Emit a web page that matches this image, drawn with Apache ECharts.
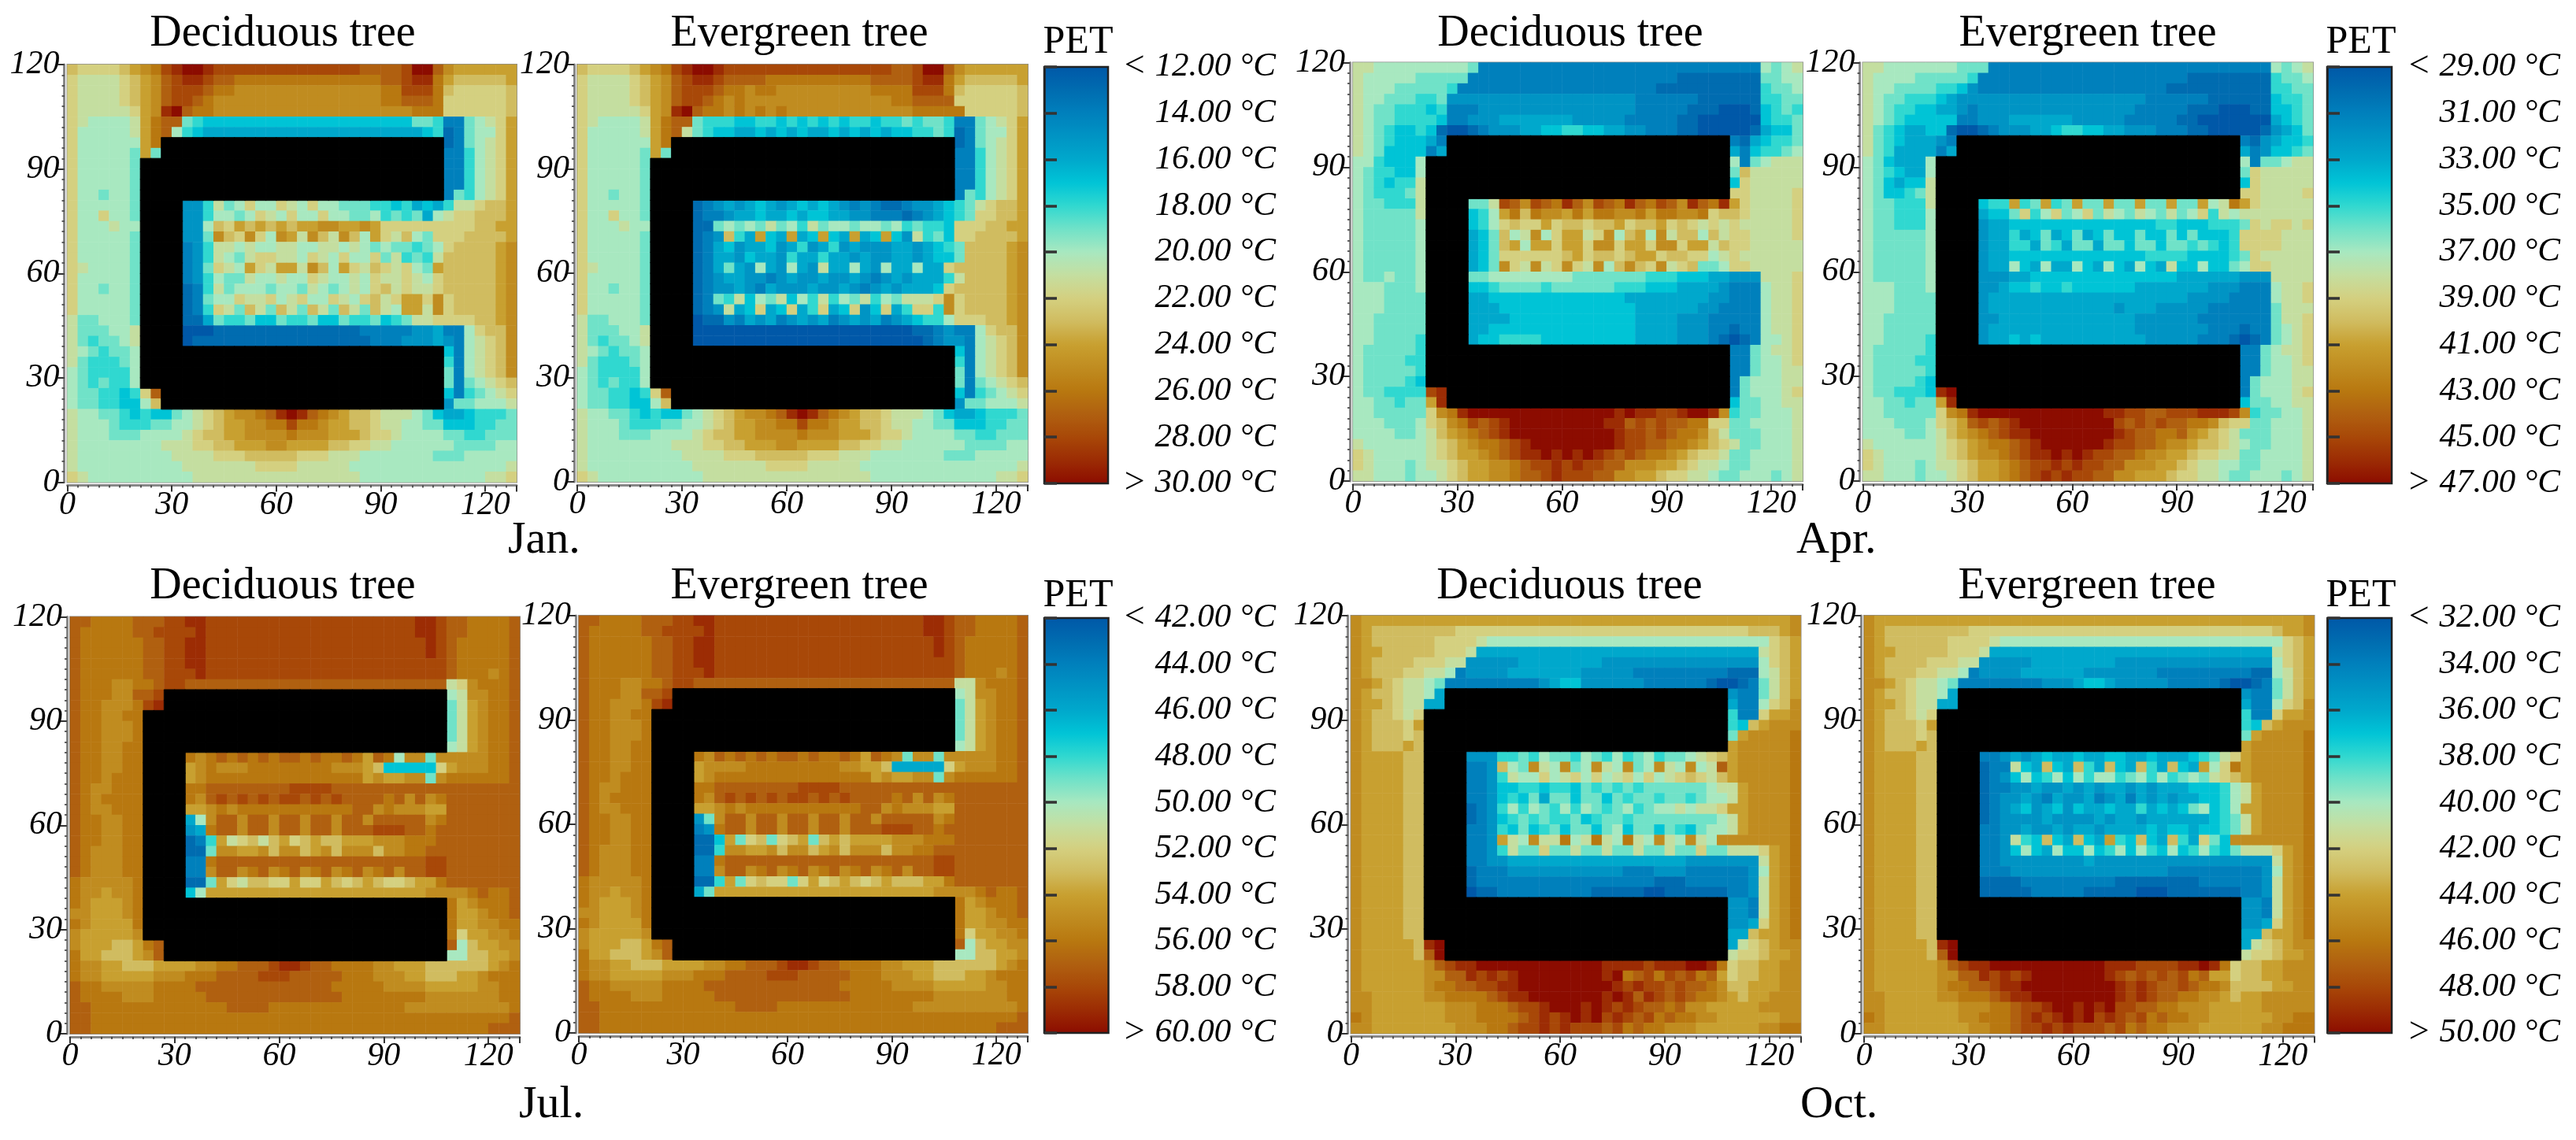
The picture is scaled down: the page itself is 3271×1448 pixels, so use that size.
<!DOCTYPE html>
<html><head><meta charset="utf-8">
<style>html,body{margin:0;padding:0;background:#fff}#c{width:3271px;height:1448px}</style>
<script src="https://cdn.jsdelivr.net/npm/echarts@6/dist/echarts.min.js"></script></head>
<body><div id="c"></div>
<script>
// Each letter is a PET level: a = lowest tick of the month's scale, each next letter = +1 °C. Building cells are left out of the strings.
// Row = "left mid right" on open rows; "left right" beside the wings; "left courtyard right" between the wings.
const janRange=[12,30], aprRange=[29,47], julRange=[42,60], octRange=[32,50];
const janTicks=["12.00","14.00","16.00","18.00","20.00","22.00","24.00","26.00","28.00","30.00"];
const aprTicks=["29.00","31.00","33.00","35.00","37.00","39.00","41.00","43.00","45.00","47.00"];
const julTicks=["42.00","44.00","46.00","48.00","50.00","52.00","54.00","56.00","58.00","60.00"];
const octTicks=["32.00","34.00","36.00","38.00","40.00","42.00","44.00","46.00","48.00","50.00"];
const buildingBlocks=[[7,8,9,35],[9,12,7,35],[13,26,7,10],[27,30,7,35],[31,32,9,35]];
const xTickValues=[0,3,6,9,12,15,18,21,24,27,30,33,36,39,42,45,48,51,54,57,60,63,66,69,72,75,78,81,84,87,90,93,96,99,102,105,108,111,114,117,120,123,126];
const yTickValues=[0,3,6,9,12,15,18,21,24,27,30,33,36,39,42,45,48,51,54,57,60,63,66,69,72,75,78,81,84,87,90,93,96,99,102,105,108,111,114,117];

const janDeciduous=[
"lkkkklmnoqrssrqqqqqqqqqqqqqqppppqsspnmmmmmm",
"kjjjjklmnpqrrqppooooooooooooooppqrromlllllm",
"kjjjjklmnpqqqpoonnnnnnnnnnnnnnooqqqolkkkkkl",
"kjjjjklmnpqqponnnnnnnnnnnnnnnnoopppokkkkkkl",
"kjjjjjkmnrspoonnnnnnnnnnnnnnnnnnnoookkkkkkl",
"kjiiiijmopphgffffffffffffffffffffhhgcchijkm",
"kiiiiijmopigfeeeeeeeeeeeeeeeeeeeeefgbchiikm",
"kiiiiiimo bchijkm",
"kiiiiihmh ccgijkm",
"kiiiiih ccgijkm",
"kiiiiih ccgijkm",
"kiiiiih ccgijkm",
"kiihiih chgijkm",
"kiiiiih ddgjhikiikjikiihhhggfgefe gjjkllm",
"kiikiih ddgiihikjikiikiihhighghei jkklllm",
"kiiijii ddilkmlmlmlmmnnmmnmkkkkkk kkkllmm",
"kiiiiih ddhnlknkinmjnljnlimkjlihk kkllllm",
"kiiiiih cdgjjijiijjiijjijihihhghi kllllmn",
"kiiiiih cdgjihjkkjjikjikiikhjghgj lllllmn",
"kjiiiih cdhkjimkjmmjnlimkjlkjkihm lllllmn",
"kiiiiih cdgihhjiijiikjiijikjjkjik lllllmn",
"kiihiih bcgjhiiihiihjihijikljkjjk lllllmn",
"kiiiiih bchiikjjkijkiikjikljkmmkn kllllmn",
"kiiiiih bcgkjhljhljhljhljhljimmjn kllllmn",
"jhhiiih bbehgghffhgghffhgghfghjjk kkkllmn",
"jhhhiij aaabbbbbbbbbbbbbbcccccdde cciklln",
"jhghhij abbbbbbbbbbbbbbbbbcccddde dcijkln",
"jihghhi fcijkln",
"jhggghi gcijkln",
"ihggggi hcijkln",
"ihghggi hchijkl",
"ihhggfgkp fcghijk",
"ihhggffil dhhiiij",
"jiihhgfgffhijklmnnoprsrponmllkjjjihfeefgggh",
"jiiihggghhiijklmmnnooqoonmmllkjjiihhfffgghh",
"jiiihhhiiiijkllmmnnnnonnnmmmlkkjiiiihhgghhh",
"jiiiiiiiijjjkkllmmmnnmmmmllkkjjiiiiiihhhhii",
"jiiiiiiiiijjjjkkklllllkkkjjjiiiiiiihhhiiiii",
"jiiiiiiiiiijjjjjjjkkkkjjjjjiiiiiiiiiiiiiiij",
"kjiiiiiiiiiijjjjjjjjjjjjjjjjiiiiiiiiiiiijjk"];

const janEvergreen=[
"lkkkklmnoqrssrqqqqqqqqqqqqqqqqppqsspnmmmmmm",
"kjjjjklmnpqrrqppppooooooooooppppqrromlllllm",
"kjjjjklmnpqqqpoonoonnnnnnnnnooooqqqolkkkkkl",
"kjjjjklmnpqqpononnnnnnnnnnnnnnooppppkkkkkkl",
"kjjjjjkmnrspoononononnnnnnnnnnnnoooookkkkkl",
"kjiiiijmopphgggffggfgfgfgfggfgghghhgcchijkm",
"kiiiiijmopjhgffeefefefeefefefeffgghgbchiikm",
"kiiiiiimo bchijkm",
"kiiiiihmh ccgijkm",
"kiiiiih ccgijkm",
"kiiiiih ccgijkm",
"kiiiiih ccgijkm",
"kiihiih chgijkm",
"kiiiiih bcdedefedefefedcdcbbcddef ghjkllm",
"kiikiih bccdeefeefeffeeddcccbcdef ghkkllm",
"kiiijii bbhihihjhigjhiihiihighggf kkkllmm",
"kiiiiih bcdlgemfemefmfemefmfdjghf kkllllm",
"kiiiiih bcefdeefdegdegdedddeedefg hllllmn",
"kiiiiih bceedfeedgeegeededdeedeff hllllmn",
"kjiiiih bcehediediedjeeiedieeieek lllllmn",
"kiiiiih bcdeeddcdeddeddedcdedeeeg jllllmn",
"kiihiih bcddedcedddeddedcdedeeefk lllllmn",
"kiiiiih bchgjfihjfigjgihjgihjjjkn kllllmn",
"kiiiiih bcdjefkefkegkefkdfkegkkgn kllllmn",
"jhhiiih abbdcedecdedecdedecdefggi kkkllmn",
"jhhhiij aaaaaaaaaaaaaaaaaaaaabbcd cciklln",
"jhghhij aaaaaaaaaaaaaaaaaaaaaabcd dcijkln",
"jihghhi fcijkln",
"jhggghi gcijkln",
"ihggggi hcijkln",
"ihghggi hchijkl",
"ihhggfgkp fcghijk",
"ihhggffil dhhiiij",
"jiihhgfgffhijklmnnoprsrponmllkjjjihfeefgggh",
"jiiihggghhiijklmmnnooqoonmmllkjjiihhfffgghh",
"jiiihhhiiiijkllmmnnnnonnnmmmlkkjiiiihhgghhh",
"jiiiiiiiijjjkkllmmmnnmmmmllkkjjiiiiiihhhhii",
"jiiiiiiiiijjjjkkklllllkkkjjjiiiiiiihhhiiiii",
"jiiiiiiiiiijjjjjjjkkkkjjjjjiiiiiiiiiiiiiiij",
"kjiiiiiiiiiijjjjjjjjjjjjjjjjiiiiiiiiiiiijjk"];

const aprDeciduous=[
"jjiiiiiiiiih c ihij",
"jiiiiihhhhh ccccccccccccccccccccbbbbbbbb hhii",
"jiiihhhhhg cccccccccccccccccccbbbbbbbbbb ghhi",
"jiihhhggh ddddddddddddddddddccccccbbbbbb gghh",
"jihhgggfg cccdddddddddddddddcccccbbbaaab fghg",
"jihhggggf ccdddeeeeeeedddddcccccbbaaaaaa fggh",
"jihgffgfb aabcdddeeffggffeeddcccbbaaaaab effh",
"jihgfffec cbefggh",
"jihffffce ecfgghi",
"iigfffi ichijj",
"ihggffi hljjjjj",
"ihgfggj fkjjjjj",
"ihggghj kkjjjjk",
"ihhgggj hhjqpnqporpnqporpoqpnrpor mkjjjjk",
"ihhhhhj fgimolonnmomoonnomoonnokl lkjjjjk",
"ihhhhhi fgiklkkmkllkllmkllmklkjkj kjjjjjk",
"ihhhhhi efhlijnikmmjknilminjllilj kkjjjjk",
"ihhhhhi efhlmimmkmmknnkmmknnkmmjl kkjjjjj",
"ihhhhhi efhkkkkkklmkllklmmkllkkij kjjjjjj",
"ihhhhhi efhnkjnjknkjnilnlknjklhhi kkjjjjj",
"ihhihhi hhiiiiiiiihhhhhhhgggfffee dddjjjk",
"iiihhhi ffghhhhghhhhhhgggfffeeeed cccijjk",
"iiihhhh eefffffffffffffeeeeeeeedd cccijjk",
"iiihhhh eeefffffffffffffeeeeeeddc cccijjk",
"iihhhhh eeeeffffffffffffeeeedddcc cccijjk",
"iihhhhh eeffffffffffffffeeeedddcc bccijjk",
"iihhhhg effggggfffffffffeeeedddcb abciijk",
"ihhhhhg cchijjk",
"ihhhhgg cchiijk",
"ihhhhhg cchiijj",
"ihhhhgf chiiijj",
"ihhggggqr chiiijk",
"iihhghhmr fhhiijj",
"iihhhhhknorssssssssssssssrsrrqqrssrnghhiiij",
"iiihhhiklnoqpqrsssssssssrrpqpqppookkhhiiiij",
"iiiihhijlmnopqrssssssssssrqqpqpoonljhhhiiij",
"jiiiiiijklmnoopqrssssssssrqqppoonmlkjhhiiij",
"kjiiiiijklmmnopqrrsrsrsrqpqpoonmlkkjhhiiiij",
"kjiiihijjklmmnnopqqrqrqqppnnnmmlkjjihhiiiij",
"jjiiihiijklmmnnoppqrqqqppnnmmlkkjjihhiiihij"];

const aprEvergreen=[
"jjiiiiiiihhh c ihij",
"jiiiihhhhhg ccccccccccccccccccccbbbbbbbb ghhi",
"jiihhhhggf dccccccccccccccccccbbbbbbbbbb gghh",
"jihhgggfe ddddddddddddddddddccccccbbbbbb fggh",
"jihggffee dcdddddddddddddddcccccbbbaaabb ffgh",
"jihgfffff ccdddeeeeeedddddcccccbbaaaaaaa efgh",
"jhgfeeffb aabcdddeefggffeedddcccbbaaaaab defh",
"jhgfeeedc cbdeffg",
"jhgeeeece ecdffgh",
"ihfeeei ichhijj",
"ihgfeei hkjjjjj",
"ihfeffj fkjjjjj",
"ihffghj kkjjjjk",
"ihhgggj fggmghmghmhhmhhmhhmhhmijo mkjjjjj",
"ihhgggi effhkgikhikhjihjihjhikgji jjjjjjj",
"ihhgggi deeffffffffffffffggfffggg hkjkkjk",
"ihhhhhi deegefhefhefhffhffhfhfffg kkkkjjj",
"ihhhhhi deeggehgehhehhfhhfhhghgfg kkkkjjj",
"ihhhhhi deefffffffffffffggggffffg hkjjjjj",
"ihhhhhi deeifeieeifeifeifejffiffh ikkjjjj",
"ihhhhhi dddeeffffffffffffffeeeeee dddjjjj",
"iiihhhi ddeffgffgffffffeeeeeeeddd cccijjk",
"iiihhhh deeeeeeeeeeeeeeeeeeeddddc cccijjk",
"iiihhhh deeeeeeeeeeeedeeedddddccc ccchjjj",
"iihhhhh ddeeeeeeeeeeeeeddddddcccc ccchjjk",
"iihhhhh deeeeeeeeeeeeeedddddddccc bcchijk",
"iihhhhg deefefeeeeeeeeeedddddcccb abchijk",
"ihhhhhg cchijjk",
"ihhhhgg cchiijk",
"ihhhhhg cchiijj",
"ihhhhgf chiiijj",
"ihhgggfrs chiiijk",
"iihhghhmr fhhiijj",
"iihhhhhknorssssssssssssrrqqppqqqrrrqnghhiij",
"iiihhhiklmpqpqrsssssssssqpqpqppoonlkkhhiiij",
"iiiihhijlmnopqrrssssssssrqppoopnmlkjhhhiiij",
"jiiiiiijklmnoopqrssssssrqqpponnmllkjihhiiij",
"kjiiiiijklmnnopqrrsrsrqqpponnmmlkkjjhhiiiij",
"kjiiihijjklmmnopqqrqrqqppnnnmmlkjjiihhiiiij",
"jjiiihiijklmmnopqrqrqqppnnmmmlkkjjihhiiihij"];

const julDeciduous=[
"ppoooopppqqrr q rrqppoooop",
"poooooppqqqqr q rrqppoooop",
"pooooooppqqrr q qrqpooooop",
"pooooooppqqrr q qrqpooooop",
"pooooooppqqrr q qqqpooooop",
"pooooooppqqqr q qqqpooonop",
"pooonnoopqq p jknooop",
"pooonnppq ijnnoop",
"poonnnoqr hjmnoop",
"poonnoo hjmnoop",
"poonnno hjmnoop",
"poonnno hjmnoop",
"poonnoo ijmnoop",
"poonnoo onopopopoppopoopompoinnhn nnnnoop",
"poonnoo mnonnnoooooooonnnmlfffffk mnnnoop",
"poonooo mnooooooooooooooomnmmnnhn oooooop",
"ponnooo ooppppppppqqqqppppppppppp ppppppp",
"ponoooo onpqpqpqpqqpqpqppppopnpno ppppppp",
"ponnooo mmnonoooooooooooppnonnnmmn ppppppp",
"poonnoo einppnppnppnppnppnpppppno ppppppp",
"poonnoo deoppnppnppnppnpppqqqppop ppppppp",
"poonnoo bcgmjkljlmklmllmmmnnnooop ppppppp",
"ponnnoo bbhnnmmnlnnlmnlnnnlnnoopp ppppppp",
"ponnnoo ccoppppppppppppppppppppqq ppppppp",
"ponnnoo ccnppnopnopnopnopnopnppqq ppppppp",
"onnnnno bbhmkjllkkmkkmlklmlkklmmo ppppppp",
"onnmnno fimmmmmmmmmmmmmmmmmmmmmnn nnopoop",
"onmmmno omnooop",
"nnmmmno ommnoop",
"onmmmmo ommnnoo",
"nmmmmmn okmmnno",
"nmmmllmop pilmmnn",
"ommlllmnp iillmmn",
"onnmmlllmmmmnnoopppqrrqppoooonnmmmllllllmno",
"onnmmmmmnnnoooppppqqqpppppooonnnmmlllmmno",
"poonnnnnoooopppppppppppppooooonnnnmmmmmnno",
"poooonnnooooopppppppppppppoooooooonnnnnnnoo",
"ppoooooooooooooppppooooooooooooonnnnnnnnnnooo",
"ppoooooooooooooooooooooooooooooooooooooooopp",
"ppooooooooooooooooooooooooooooooooooooooppp"];

const julEvergreen=[
"ppoooopppqqrr q rrqppoooop",
"poooooppqqqqr q rrqppoooop",
"pooooooppqqrr q qrqpooooop",
"pooooooppqqrr q qrqpooooop",
"pooooooppqqrr q qqqpooooop",
"pooooooppqqqr q qqqpooonop",
"pooonnoopqq p jjnooop",
"pooonnppq ijnnoop",
"poonnnoqr hjmnoop",
"poonnoo hjmnoop",
"poonnno hjmnoop",
"poonnno hjmnoop",
"poonnoo ijmnoop",
"poonnoo onpopopoppopoopomponhnnhn nnnnoop",
"poonnoo mnnnnooooooooonnmmleeeeek mnnnoop",
"poonooo mnooooooooooooooomnmmnnhn oooooop",
"ponnooo ooppppppppqqqqppppppppppp ppppppp",
"ponoooo onpqpqpqpqqpqpqppppopnpno ppppppp",
"ponnooo mmnonoooooooooooppnonnnmmn ppppppp",
"poonnoo dhnppnppnppnppnppnpppppno ppppppp",
"poonnoo cdoppnppnppnppnpppqqqppop ppppppp",
"poonnoo bbfmhklhklmhlmlmmmmnnnooo ppppppp",
"ponnnoo bbgnnmmnlnnlmnlnnnlnnoopp ppppppp",
"ponnnoo ccoppppppppppppppppppppqq ppppppp",
"ponnnoo ccnppnopnopnopnopnopnppqq ppppppp",
"onnnnno bbgmhklkkhkmklmlklmlllmmo ppppppp",
"onnmnno ehmmmmmmmmmmmmmmmmmmmmmnn nnopoop",
"onmmmno omnooop",
"nnmmmno ommnoop",
"onmmmmo ommnnoo",
"nmmmmmn okmmnno",
"nmmmllmop pilmmnn",
"ommlllmnp iillmmn",
"onnmmlllmmmmnnoopppqrrqppoooonnmmmllllllmno",
"onnmmmmmnnnoooppppqqqpppppooonnnmmlllmmno",
"poonnnnnoooopppppppppppppooooonnnnmmmmmnno",
"poooonnnooooopppppppppppppoooooooonnnnnnnoo",
"ppoooooooooooooppppooooooooooooonnnnnnnnnnooo",
"ppoooooooooooooooooooooooooooooooooooooooopp",
"ppooooooooooooooooooooooooooooooooooooooppp"];

const octDeciduous=[
"nmmmmmmmmmmmmmmmmmmmmmmmmmmmmmmmmmmmmmmmmmn",
"nmllllllllkkkkkkkkkkkkkkkkkkkkkkkkkkkklllmn",
"nmllllllkkkk jiiiiiiiiiiiiiiiiiiiiiiiiiiiij klm",
"nmmlllllkkkj e jklm",
"nmllllkkkjj dddddeeeeeeeedddddddddddddddd iklm",
"nmlllkkjji cddddeeeeeeedddddcccccccccbb ijlm",
"nnmlkjjih cccccccccdeffddddddccccccbaabc hjlm",
"nmllkjjie dcchjlm",
"nmmlkjjee eccikln",
"nmllkjk gcckmmn",
"nmlllkm gflmnnn",
"nmlllkl hmnnnno",
"nmlllml mnnnnno",
"nmmmmll dddgghgihhgihgighighhijkl mnnnnno",
"nmmmmll ccdlihnjinhinjinhinjinijp mnnnnno",
"nmmmmll ccdgjiikijkikijkikijklkjl mnnnnno",
"nmmmmll ccdffggfggfhghghghhhhhhij jmnnnno",
"nmmmmll ccdfgfhehhfhhfhghhghhghii jmnnnno",
"nmmmmll bcdgigihgigihghighiijijjk mmnnnno",
"nmmmmll bcdfghghgghfghhghhhhhhhhi jmnnnno",
"nmmmmll ccdgfhfghfhhfhifhhfhgfhii jmnnnno",
"nmmmmll ccdmjinjjoijojiojinjinjin nnnnnno",
"nmmmmll ccdgjhhkhhjhhjhhjhhjhhkhh jjjkmno",
"nmmmmll ccddeeeeeeeeeeeeeeeeedddd dddjmno",
"nmmmmll bcccdddddddddddcccdddcccc ccdimno",
"nmmmmll bcccccccccccccccccbbbcccc ccdjmno",
"nmmmmll abbcccccccccbbbbbaabbbbbb ccdjmno",
"nmmmmll ddcjmno",
"nmmmmll ddcjmno",
"nmmmmll ddekmno",
"nmmmmll eelmmno",
"nmmmmmlrs ejklmnn",
"nmmmmmlps jkklmmn",
"nmmmmmmnpqrrssssssssssssrrrrqrrrssrokllmmnn",
"nmmmmmmnnpprqrqrssssssssrsopqoqpqopmkllmmnn",
"nmmmmmmnooppqqrrsssssssssrqrqqpqpponllmmmnn",
"nnmmmmmnnoooopqrrsssssssrsrprqpqpoonmlmmnnn",
"nnmmmmmmmnnnooopqqrsssrsrqrqppopnnmmmmmnnn",
"onmmmmmmmnnnoooopqrqrsrsqrqpqopoonnmmmmmmnno",
"nnmmmmmmmmnnnoopqqrqrqqqpqopoonnnmmmmmmnno"];

const octEvergreen=[
"nmmmmmmmmmmmmmmmmmmmmmmmmmmmmmmmmmmmmmmmmmn",
"nmllllllllkkkkkkkkkkkkkkkkkkkkkkkkkkkkklmmn",
"nmllllllkkkk jiiiiiiiiiiiiiiiiiiiiiiiiiiiij klm",
"nmmlllllkkkj e jklm",
"nmllllkkkjj dddddeeeeeeeeddddddddddddddddd iklm",
"nmlllkkjji cddddeeeeeedddddddcccccccccbb ijlm",
"nnmlkjjih ccccccccdddeffedddddcccccbaabc hjlm",
"nmllkjjie dcchjlm",
"nmmlkjjee eccikln",
"nmllkjk gcckmmn",
"nmlllkm gflmnnn",
"nmlllkl hmnnnno",
"nmlllml mnnnnno",
"nmmmmll ccdedefeefeeffeefeeefghjk mnnnnno",
"nmmmmll bccjfelfelgelfelgelfemiko mnnnnno",
"nmmmmll bcdfifgifigiighigighihjkl mnnnnno",
"nmmmmll bccddeddededeededeeefffgi jmnnnno",
"nmmmmll bcddedceddecdecededeeffgi jmnnnno",
"nmmmmll bcdefdefdfeefeegefefhifgi mmnnnno",
"nmmmmll bcddddeddddedeedeeeeeefgh jmnnnno",
"nmmmmll ccddeddedeedeeeefeffeffgh jmnnnno",
"nmmmmll ccdjgflfelfemgflfelgekhfn nnnnnno",
"nmmmmll ccdfifeiffifgifigfifgigfh jjjkmno",
"nmmmmll ccddddddddedddddddddddddd dddjmno",
"nmmmmll cccdddddddddddddddccccccc ccdimno",
"nmmmmll bbbbcccccccccbbbbbbbbcccc ccdjmno",
"nmmmmll bbbbbcccccbbbbbaaabbbbbbb ccdjmno",
"nmmmmll ddcjmno",
"nmmmmll ddcjmno",
"nmmmmll ddekmno",
"nmmmmll eelmmno",
"nmmmmmlrs ejklmnn",
"nmmmmmlps jkklmmn",
"nmmmmmmnpqrrsssssssssssrrrqqqqrrsrokllmmnn",
"nmmmmmmnnpprqrqrsssssssrqpqpqpqopmmkllmmnn",
"nmmmmmmnooppqrrsssssssssrqrqppqpoonllllmmnn",
"nnmmmmmnnooopqrrssssssssrqrqppoonnmlmmnnn",
"nnmmmmmmmnnnoopqqrssrsrsqqppoonnnmmmmmnnn",
"onmmmmmmmnnooopqrqrsrsqrqpqopoonnmmmmmmnno",
"nnmmmmmmmmnnoopqqrqrqqqpqopoonnnmmmmmmnno"];

const paletteStops=["#0058a8","#006cb0","#0080bc","#0094c4","#00a8cc","#00c4d6","#30d8d0","#70e2c8","#a8e8c0","#c4dea0","#d4d080","#d0bc60","#c8a030","#c08c20","#b87810","#b06010","#a84808","#9c2c04","#8c0c00"];

const COLS=xTickValues.length, ROWS=yTickValues.length;
const isBuilding=(r,c)=>buildingBlocks.some(b=>r>=b[0]&&r<=b[1]&&c>=b[2]&&c<=b[3]);
const fit=(s,n)=>s.length>=n?s.slice(0,n):s+s[s.length-1].repeat(n-s.length);
function expand(row,r){
  const t=row.split(' ');
  if(t.length===1) return fit(t[0],COLS);
  if(r>=13&&r<=26) return fit(t[0],7)+'####'+fit(t[1],25)+fit(t[2],7);
  if(t.length===3) return t[0]+fit(t[1],COLS-t[0].length-t[2].length)+t[2];
  const leftLen=(r===7||r===8||r===31||r===32)?9:7;
  return fit(t[0],leftLen)+'#'.repeat(36-leftLen)+fit(t[1],7);
}
function decode(rows,min){
  const pet=[];
  rows.forEach((row,r)=>{
    const full=expand(row,r);
    for(let c=0;c<COLS;c++) if(!isBuilding(r,c)) pet.push([c,ROWS-1-r,min+full.charCodeAt(c)-97]);
  });
  return pet;
}
const buildingData=[];
for(let r=0;r<ROWS;r++)for(let c=0;c<COLS;c++) if(isBuilding(r,c)) buildingData.push([c,ROWS-1-r,1]);

const FONT='Liberation Serif';
const months=[
 {range:janRange,ticks:janTicks,name:'Jan.',nameX:645,nameY:706,
  d:{rows:janDeciduous,l:85.5,t:82,r:656,b:612.5,cx:359,ty:62},
  e:{rows:janEvergreen,l:733,t:82,r:1305,b:612,cx:1015,ty:62},
  bar:{l:1326,t:85,r:1407,b:614,labelR:1620,petX:1369,petY:70}},
 {range:aprRange,ticks:aprTicks,name:'Apr.',nameX:2281,nameY:706,
  d:{rows:aprDeciduous,l:1718,t:79.5,r:2289,b:611,cx:1994,ty:62},
  e:{rows:aprEvergreen,l:2365.5,t:79.5,r:2937,b:611,cx:2651,ty:62},
  bar:{l:2955,t:85,r:3037,b:614,labelR:3251,petX:2998,petY:70}},
 {range:julRange,ticks:julTicks,name:'Jul.',nameX:659,nameY:1423,
  d:{rows:julDeciduous,l:89,t:783.5,r:660,b:1313,cx:359,ty:764},
  e:{rows:julEvergreen,l:735,t:782,r:1305,b:1312,cx:1015,ty:764},
  bar:{l:1326,t:785,r:1407.5,b:1312,labelR:1620,petX:1369,petY:773}},
 {range:octRange,ticks:octTicks,name:'Oct.',nameX:2286,nameY:1423,
  d:{rows:octDeciduous,l:1715.5,t:782,r:2286.5,b:1312.6,cx:1993,ty:764},
  e:{rows:octEvergreen,l:2367,t:782,r:2938.5,b:1312.6,cx:2650,ty:764},
  bar:{l:2955.5,t:785,r:3037,b:1312,labelR:3251,petX:2998,petY:773}}];

const grid=[],xAxis=[],yAxis=[],series=[],visualMap=[],graphic=[],buildingSeries=[];
function text(str,x,baseline,size,align){
  graphic.push({type:'text',silent:true,style:{text:str,x:x,y:baseline-0.33*size,fill:'#000',font:size+'px "'+FONT+'"',align:align,verticalAlign:'middle'}});
}
months.forEach(m=>{
  const sIdx=[];
  [['d','Deciduous tree'],['e','Evergreen tree']].forEach(([k,title])=>{
    const p=m[k],g=grid.length,xi=xAxis.length,yi=yAxis.length;
    grid.push({left:p.l,top:p.t,width:p.r-p.l,height:p.b-p.t,show:true,borderColor:'#8a8a8a',borderWidth:2,backgroundColor:'transparent'});
    xAxis.push({gridIndex:g,type:'category',data:xTickValues,show:false});
    yAxis.push({gridIndex:g,type:'category',data:yTickValues,show:false});
    const lab={color:'#000',fontFamily:FONT,fontStyle:'italic',fontSize:42};
    xAxis.push({gridIndex:g,type:'value',min:0,max:129,interval:30,position:'bottom',offset:4,z:3,splitLine:{show:false},
      axisLine:{show:true,onZero:false,lineStyle:{color:'#888',width:3}},axisTick:{show:true,length:8,lineStyle:{color:'#333',width:2}},
      minorTick:{show:true,splitNumber:10,length:3,lineStyle:{color:'#333',width:1.5}},
      axisLabel:Object.assign({},lab,{margin:4,showMaxLabel:false,formatter:v=>v%30===0?String(v):''})});
    yAxis.push({gridIndex:g,type:'value',min:0,max:120,interval:30,position:'left',offset:4,z:3,splitLine:{show:false},
      axisLine:{show:true,onZero:false,lineStyle:{color:'#888',width:3}},axisTick:{show:true,length:8,lineStyle:{color:'#333',width:2}},
      minorTick:{show:true,splitNumber:10,length:3,lineStyle:{color:'#333',width:1.5}},
      axisLabel:Object.assign({},lab,{margin:6})});
    sIdx.push(series.length);
    series.push({type:'heatmap',name:title,xAxisIndex:xi,yAxisIndex:yi,data:decode(p.rows,m.range[0]),progressive:0,animation:false,itemStyle:{borderWidth:0},emphasis:{disabled:true}});
    buildingSeries.push(series.length);
    series.push({type:'heatmap',name:'Building',xAxisIndex:xi,yAxisIndex:yi,data:buildingData,progressive:0,animation:false,itemStyle:{borderWidth:0.8,borderColor:'#000'},emphasis:{disabled:true}});
    text(title,p.cx,p.ty,56,'center');
  });
  const b=m.bar,g=grid.length;
  visualMap.push({type:'continuous',seriesIndex:sIdx,dimension:2,min:m.range[0],max:m.range[1],inverse:true,show:true,calculable:false,hoverLink:false,
    left:b.l,top:b.t,itemWidth:b.r-b.l,itemHeight:b.b-b.t,padding:0,text:null,showLabel:false,z:1,
    inRange:{color:paletteStops}});
  grid.push({left:b.l,top:b.t,width:b.r-b.l,height:b.b-b.t,show:true,z:5,borderColor:'#222',borderWidth:2.5,backgroundColor:'transparent'});
  xAxis.push({gridIndex:g,type:'value',min:0,max:1,show:false});
  const last=m.ticks.length-1;
  yAxis.push({gridIndex:g,type:'category',data:m.ticks,inverse:true,boundaryGap:false,position:'right',z:6,
    axisLine:{show:true,lineStyle:{color:'#222',width:2.5}},axisTick:{show:true,length:16,alignWithLabel:true,lineStyle:{color:'#333',width:3.5}},
    axisLabel:{interval:0,align:'right',margin:b.labelR-b.r,color:'#000',
      formatter:(v,i)=>i===0?'{s|<}{t|'+v+' °C}':i===last?'{s|>}{t|'+v+' °C}':'{t|'+v+' °C}',
      rich:{t:{fontFamily:FONT,fontStyle:'italic',fontSize:43,color:'#000'},s:{fontFamily:FONT,fontSize:46,color:'#000',padding:[0,13,0,0]}}}});
  text('PET',b.petX,b.petY,50,'center');
  text(m.name,m.nameX,m.nameY,58,'left');
});
visualMap.push({type:'continuous',seriesIndex:buildingSeries,dimension:2,min:0,max:1,show:false,inRange:{color:['#000000','#000000']}});
const chart=echarts.init(document.getElementById('c'),null,{renderer:'canvas',width:3271,height:1448});
chart.setOption({animation:false,backgroundColor:'#fff',tooltip:{show:false},grid,xAxis,yAxis,series,visualMap,graphic});
</script></body></html>
